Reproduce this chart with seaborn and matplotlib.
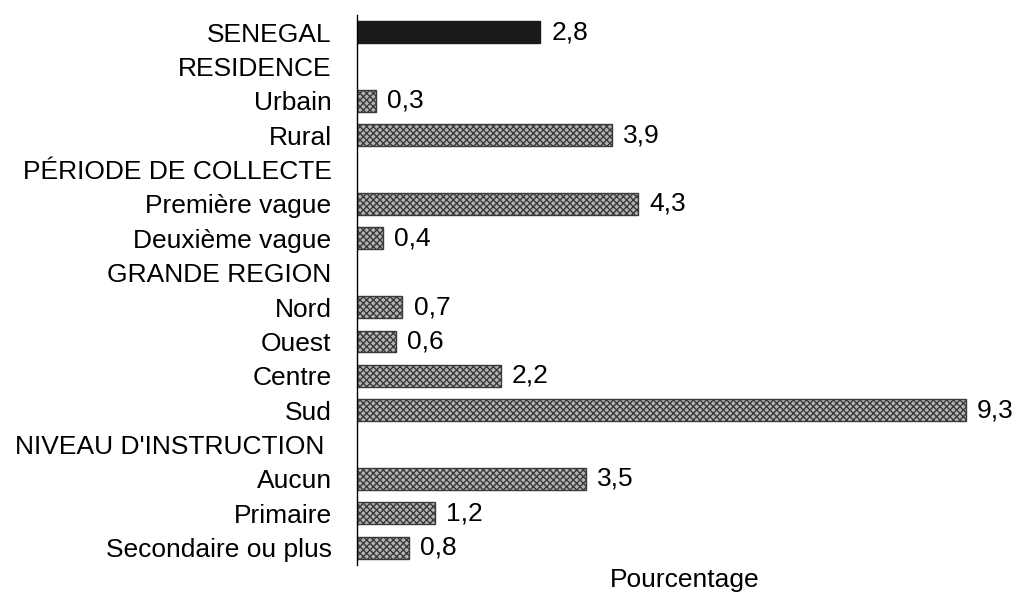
import pandas as pd
import matplotlib.pyplot as plt
import seaborn as sns

sns.set_theme(style="white")
plt.rcParams.update({
    "font.family": ["Liberation Sans", "DejaVu Sans"],
    "font.size": 19,
    "text.color": "black",
    "axes.labelcolor": "black",
    "xtick.color": "black",
    "ytick.color": "black",
    "hatch.linewidth": 1.0,
})

# chart data
categories = [
    "SENEGAL", "RESIDENCE", "Urbain", "Rural", "PÉRIODE DE COLLECTE",
    "Première vague", "Deuxième vague", "GRANDE REGION", "Nord", "Ouest",
    "Centre", "Sud", "NIVEAU D'INSTRUCTION ", "Aucun", "Primaire",
    "Secondaire ou plus",
]
values = [2.8, None, 0.3, 3.9, None, 4.3, 0.4, None, 0.7, 0.6, 2.2, 9.3,
          None, 3.5, 1.2, 0.8]
groups = ["Ensemble", None, "Sous-groupe", "Sous-groupe", None,
          "Sous-groupe", "Sous-groupe", None, "Sous-groupe", "Sous-groupe",
          "Sous-groupe", "Sous-groupe", None, "Sous-groupe", "Sous-groupe",
          "Sous-groupe"]

df = pd.DataFrame({"cat": categories, "val": values, "grp": groups})
df_bars = df.dropna(subset=["val"])

fig = plt.figure(figsize=(10.16, 5.94), dpi=100)
ax = fig.add_axes([0.351, 0.049, 0.645, 0.926])

sns.barplot(
    data=df_bars, x="val", y="cat", hue="grp", order=categories,
    hue_order=["Ensemble", "Sous-groupe"],
    palette={"Ensemble": "#1a1a1a", "Sous-groupe": "#b4b4b4"},
    orient="h", width=0.63, dodge=False, legend=False, ax=ax,
)

for i, container in enumerate(ax.containers):
    for bar in container:
        if i == 0:
            bar.set_edgecolor("#1a1a1a")
        else:
            bar.set_edgecolor("#3a3a3a")
            bar.set_hatch("xxxxx")
        bar.set_linewidth(1.0)
    labels = [f"{b.get_width():.1f}".replace(".", ",") for b in container]
    ax.bar_label(container, labels=labels, padding=8, fontsize=19)

ax.set_xlim(0, 10)
ax.set_ylim(len(categories) - 0.5, -0.5)
ax.set_xticks([])
ax.set_ylabel("")
ax.set_xlabel("Pourcentage", fontsize=19, labelpad=2)
ax.tick_params(axis="y", length=0, pad=18, labelsize=19)
for s in ["top", "right", "bottom"]:
    ax.spines[s].set_visible(False)
ax.spines["left"].set_color("black")
ax.spines["left"].set_linewidth(1.0)

fig.savefig("out.png", dpi=100)
